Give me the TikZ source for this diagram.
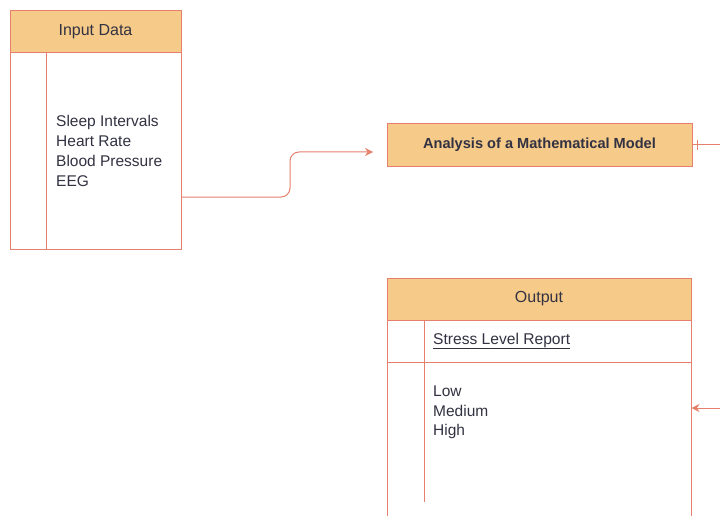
\documentclass[tikz,border=0pt]{standalone}
\usepackage{fontspec}
\setmainfont{Liberation Sans}
\usetikzlibrary{arrows.meta,calc}
\definecolor{hdr}{RGB}{246,202,136}
\definecolor{bord}{RGB}{228,128,108}
\definecolor{txt}{RGB}{50,50,66}
\tikzset{
  hbox/.style={draw=bord, line width=1pt, fill=hdr, text=txt, inner sep=0pt, font=\fontsize{16}{18}\selectfont},
  bbox/.style={draw=bord, line width=1pt, fill=white, inner sep=0pt},
  sep/.style={draw=bord, line width=1pt},
  conn/.style={draw=bord, line width=1pt, -{Stealth[length=8pt,width=8pt]}},
  plain/.style={draw=bord, line width=1pt},
  lst/.style={text=txt, align=left, anchor=north west, inner sep=0pt, font=\fontsize{15.5}{19.7}\selectfont},
}
\begin{document}
\begin{tikzpicture}[x=1pt,y=-1pt]
\useasboundingbox (0,0) rectangle (720,516);
\clip (0,0) rectangle (720,516);
% Input Data
\node[hbox, minimum width=171pt, minimum height=42pt] (inhdr) at (95.5,32) {Input Data};
\node[bbox, minimum width=171pt, minimum height=196pt] (inbody) at (95.5,151) {};
\draw[sep] (46,53) -- (46,249);
\node[lst] (intext) at (56,115.5) {Sleep Intervals\\Heart Rate\\Blood Pressure\\EEG};
% Analysis
\node[hbox, font=\fontsize{14.6}{16}\selectfont\bfseries, minimum width=305pt, minimum height=42pt] (ana) at (539.5,145) {Analysis of a Mathematical Model};
% Output
\node[hbox, minimum width=304pt, minimum height=42pt] (outhdr) at (539,299) {Output};
\node[bbox, minimum width=304pt, minimum height=42pt] (outrow) at (539,341) {};
\node[bbox, minimum width=304pt, minimum height=180pt] (outbody) at (539,452) {};
\draw[sep] (424,320) -- (424,502);
\node[text=txt, anchor=west, inner sep=0pt, font=\fontsize{15.6}{18}\selectfont] (srep) at (433,341) {\underline{Stress Level Report}};
\node[lst] (outtext) at (433,385.5) {Low\\Medium\\High};
% connectors
\coordinate (bend) at (290,152);
\coordinate (tip) at (373,152);
\draw[conn, rounded corners=9pt] ([yshift=-46pt]inbody.east) -| (bend) -- (tip);
\coordinate (r1) at (730,145);
\coordinate (r2) at (730,408);
\draw[plain] (ana.east) -- (r1);
\draw[plain] (697,140) -- (697,150);
\draw[conn] (r2) -- (outbody.east |- r2);
\end{tikzpicture}
\end{document}
